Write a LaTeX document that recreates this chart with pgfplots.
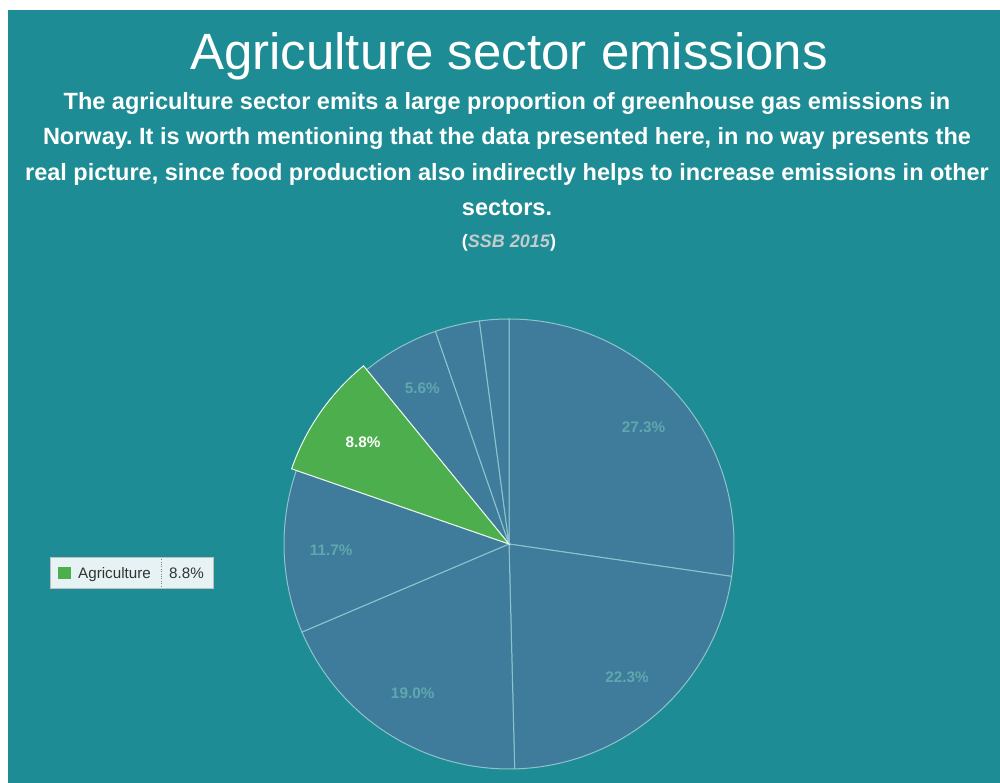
\documentclass[border=0pt]{standalone}
\usepackage{pgfplots}
\pgfplotsset{compat=1.18}
\usepackage{fontspec}
\setmainfont{Liberation Sans}
\frenchspacing
\definecolor{bg}{HTML}{1E8C94}
\definecolor{slice}{HTML}{3F7C9B}
\definecolor{agri}{HTML}{4CAE4C}
\definecolor{lbl}{HTML}{5FA8B0}
\definecolor{edge}{HTML}{8CC3CC}
\definecolor{legbg}{HTML}{E6F2F3}
\definecolor{srcgrey}{HTML}{C3CCCC}
% wedge: #1 cumulative start (%), #2 share (%), #3 radius, #4 fill, #5 edge colour
\newcommand\piewedge[5]{%
  \addplot[fill=#4, draw=#5, line width=1pt, domain={3.6*#1}:{3.6*(#1+#2)}, samples=80, variable=\t]
    ({509+#3*sin(\t)},{239+#3*cos(\t)}) -- (axis cs:509,239) -- cycle;}
\newcommand\plabel[4]{% #1 start, #2 share, #3 colour, #4 font
  \node[text=#3, font=#4] at (axis cs:{509+178*sin(3.6*(#1+#2/2))},{239+178*cos(3.6*(#1+#2/2))}) {#2\%};}
\begin{document}
\begin{tikzpicture}
\begin{axis}[
  width=1000pt, height=783pt, scale only axis,
  xmin=0, xmax=1000, ymin=0, ymax=783,
  hide axis, clip=false,
]
\fill[white] (axis cs:0,0) rectangle (axis cs:1000,783);
\fill[bg] (axis cs:8,0) rectangle (axis cs:1000,773);
% slices (clockwise from top): 27.3, 22.3, 19.0, 11.7, 8.8 (Agriculture), 5.6, 3.2, 2.1
\piewedge{0}{27.3}{225}{slice}{edge}
\piewedge{27.3}{22.3}{225}{slice}{edge}
\piewedge{49.6}{19.0}{225}{slice}{edge}
\piewedge{68.6}{11.7}{225}{slice}{edge}
\piewedge{89.1}{5.6}{225}{slice}{edge}
\piewedge{94.7}{3.2}{225}{slice}{edge}
\piewedge{97.9}{2.1}{225}{slice}{edge}
\piewedge{80.3}{8.8}{230}{agri}{white!90!agri}
\plabel{0}{27.3}{lbl}{\bfseries\fontsize{15.3}{15}\selectfont}
\plabel{27.3}{22.3}{lbl}{\bfseries\fontsize{15.3}{15}\selectfont}
\plabel{49.6}{19.0}{lbl}{\bfseries\fontsize{15.3}{15}\selectfont}
\plabel{68.6}{11.7}{lbl}{\bfseries\fontsize{15.3}{15}\selectfont}
\plabel{80.3}{8.8}{white}{\bfseries\fontsize{15.3}{15}\selectfont}
\plabel{89.1}{5.6}{lbl}{\bfseries\fontsize{15.3}{15}\selectfont}
% titles
\node[anchor=base, text=white, font=\fontsize{51}{51}\selectfont] at (axis cs:509,713) {Agriculture sector emissions};
\node[anchor=base, text=white, font=\bfseries\fontsize{23.5}{24}\selectfont] at (axis cs:507,673.7) {The agriculture sector emits a large proportion of greenhouse gas emissions in};
\node[anchor=base, text=white, font=\bfseries\fontsize{23.5}{24}\selectfont] at (axis cs:507,638.2) {Norway. It is worth mentioning that the data presented here, in no way presents the};
\node[anchor=base, text=white, font=\bfseries\fontsize{23.5}{24}\selectfont] at (axis cs:507,602.7) {real picture, since food production also indirectly helps to increase emissions in other};
\node[anchor=base, text=white, font=\bfseries\fontsize{23.5}{24}\selectfont] at (axis cs:507,567.2) {sectors.};
\node[anchor=base, text=white, font=\bfseries\fontsize{18}{18}\selectfont] at (axis cs:509,535.7) {(\textcolor{srcgrey}{\itshape SSB 2015})};
% legend / tooltip
\draw[draw=black!25, fill=legbg] (axis cs:50,195) rectangle (axis cs:213,226);
\fill[agri] (axis cs:58,204) rectangle (axis cs:70.5,216);
\node[anchor=base west, inner sep=0pt, text=black!80, font=\fontsize{15.2}{15.2}\selectfont] at (axis cs:78,204.7) {Agriculture};
\draw[dotted, black!50] (axis cs:161,197) -- (axis cs:161,224);
\node[anchor=base west, inner sep=0pt, text=black!80, font=\fontsize{15.2}{15.2}\selectfont] at (axis cs:169,204.7) {8.8\%};
\end{axis}
\end{tikzpicture}
\end{document}
